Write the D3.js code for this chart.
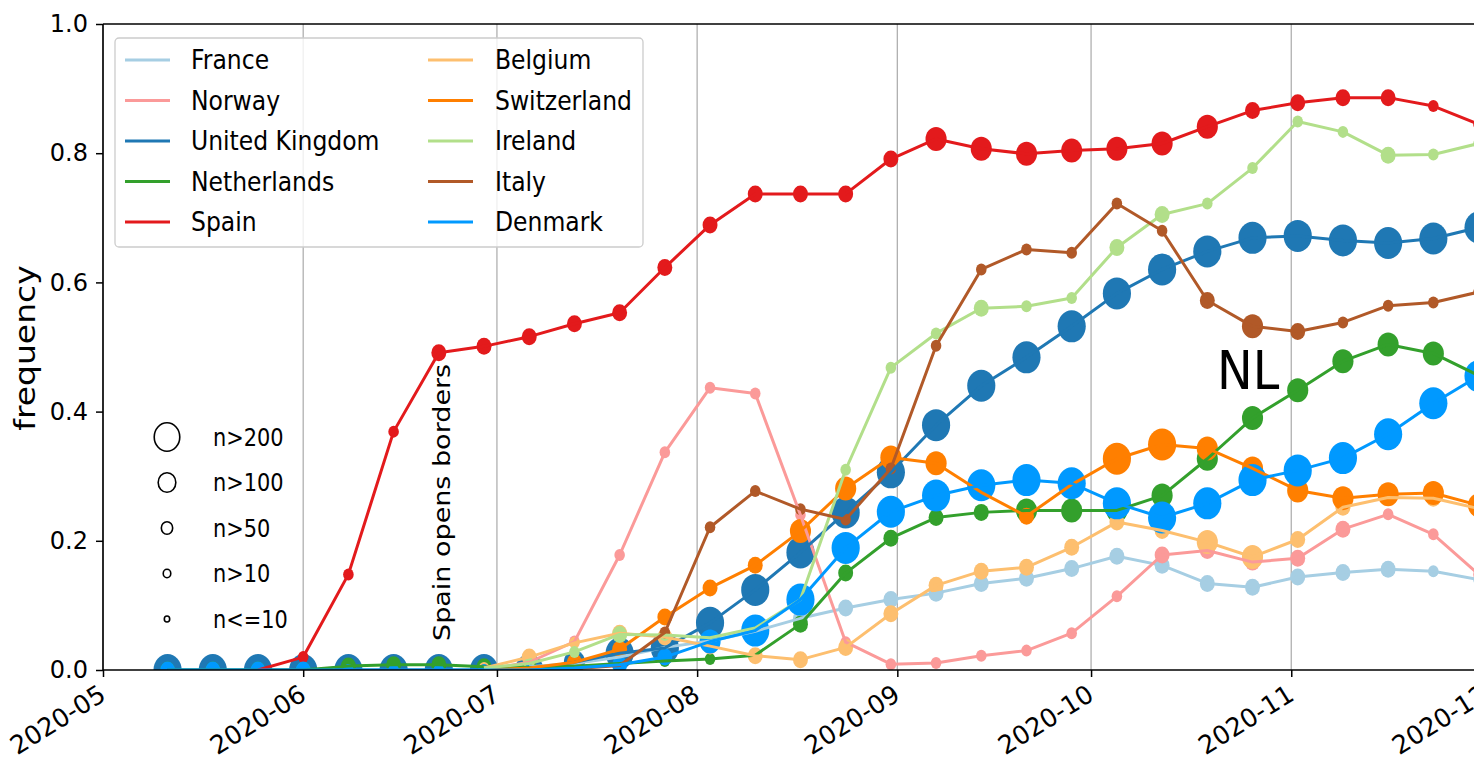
<!DOCTYPE html>
<html><head><meta charset="utf-8">
<script src="https://cdn.jsdelivr.net/npm/d3@7"></script>
<style>
html,body{margin:0;padding:0;background:#fff;}
svg{display:block;font-family:"DejaVu Sans",sans-serif;}
</style></head>
<body>
<svg id="chart" width="1474" height="762"></svg>
<script>
// ---------------- DATA ----------------
const dates = ["2020-05-11","2020-05-18","2020-05-25","2020-06-01","2020-06-08","2020-06-15","2020-06-22","2020-06-29",
  "2020-07-06","2020-07-13","2020-07-20","2020-07-27","2020-08-03","2020-08-10","2020-08-17","2020-08-24","2020-08-31",
  "2020-09-07","2020-09-14","2020-09-21","2020-09-28","2020-10-05","2020-10-12","2020-10-19","2020-10-26",
  "2020-11-02","2020-11-09","2020-11-16","2020-11-23","2020-11-30"];
const countries = ["France","Norway","United Kingdom","Netherlands","Spain","Belgium","Switzerland","Ireland","Italy","Denmark"];
const colors = ["#a6cee3","#fb9a99","#1f78b4","#33a02c","#e31a1c","#fdbf6f","#ff7f00","#b2df8a","#b15928","#0099ff"];
const _ = null;
const franceVals = [_,_,_,_,_,_,_,_,0.005,0.01,0.02,0.035,0.045,0.06,0.08,0.096,0.109,0.119,0.134,0.142,0.157,0.176,0.162,0.134,0.128,0.144,0.151,0.156,0.153,0.14];
const norwayVals = [_,_,_,_,_,_,_,0,0.012,0.044,0.178,0.337,0.437,0.428,0.24,0.043,0.009,0.011,0.022,0.03,0.057,0.114,0.178,0.185,0.167,0.173,0.218,0.241,0.21,0.148];
const ukVals = [0,0,0,0,0,0,0,0,0,0.012,0.026,0.034,0.073,0.124,0.182,0.244,0.306,0.379,0.44,0.484,0.532,0.583,0.62,0.648,0.669,0.672,0.665,0.661,0.668,0.685];
const nlVals = [0,0,0,0,0.006,0.008,0.008,0.005,0.004,0.006,0.01,0.014,0.017,0.023,0.071,0.15,0.204,0.236,0.244,0.247,0.247,0.247,0.27,0.327,0.39,0.433,0.478,0.504,0.49,0.456];
const spainVals = [_,_,0,0.02,0.148,0.369,0.491,0.501,0.516,0.536,0.553,0.623,0.689,0.737,0.737,0.737,0.791,0.822,0.807,0.799,0.804,0.807,0.815,0.841,0.866,0.878,0.886,0.886,0.873,0.845];
const belgiumVals = [_,_,_,_,_,_,_,0.003,0.02,0.042,0.057,0.051,0.037,0.022,0.016,0.035,0.087,0.131,0.153,0.159,0.19,0.229,0.216,0.198,0.175,0.202,0.252,0.267,0.266,0.25];
const switzerlandVals = [_,_,_,_,_,_,_,0,0.003,0.012,0.032,0.082,0.127,0.162,0.215,0.281,0.329,0.32,0.275,0.238,0.287,0.327,0.349,0.343,0.312,0.278,0.266,0.272,0.274,0.255];
const irelandVals = [_,_,_,_,_,_,_,0.003,0.01,0.028,0.055,0.054,0.05,0.065,0.109,0.31,0.468,0.521,0.56,0.563,0.576,0.654,0.705,0.722,0.777,0.849,0.833,0.797,0.798,0.815];
const italyVals = [_,_,_,_,_,_,_,_,0,0.002,0.007,0.058,0.221,0.277,0.249,0.233,0.312,0.502,0.62,0.651,0.646,0.722,0.68,0.572,0.532,0.524,0.538,0.564,0.569,0.585];
const denmarkVals = [0,0,0,0,0,0,0,0,0,0.003,0.008,0.02,0.044,0.061,0.109,0.189,0.245,0.27,0.286,0.294,0.289,0.258,0.236,0.258,0.294,0.309,0.328,0.365,0.413,0.455];
// sample-size bin per point: 1 n<=10, 2 n>10, 3 n>50, 4 n>100, 5 n>200
const franceN = [_,_,_,_,_,_,_,_,2,2,2,2,3,3,3,3,3,3,3,3,3,3,3,3,3,3,3,3,2,2];
const norwayN = [_,_,_,_,_,_,_,1,2,2,2,2,2,2,2,2,2,2,2,2,2,2,3,3,3,3,3,2,2,2];
const ukN = [5,5,5,5,5,5,5,5,5,4,5,5,5,5,5,5,5,5,5,5,5,5,5,5,5,5,5,5,5,5];
const nlN = [3,3,3,3,3,3,3,3,3,2,2,2,2,2,3,3,3,3,3,4,4,4,4,4,4,4,4,4,4,4];
const spainN = [_,_,1,2,2,2,3,3,3,3,3,3,3,3,3,3,3,4,4,4,4,4,4,4,3,3,3,3,2,2];
const belgiumN = [_,_,_,_,_,_,_,2,3,2,3,3,3,3,3,3,3,3,3,3,3,3,3,4,4,3,3,3,3,3];
const switzerlandN = [_,_,_,_,_,_,_,2,2,3,3,3,3,3,4,4,4,4,3,3,3,5,5,4,4,4,4,4,4,4];
const irelandN = [_,_,_,_,_,_,_,1,2,2,3,2,2,2,2,2,2,2,3,2,2,3,3,2,2,2,2,3,2,2];
const italyN = [_,_,_,_,_,_,_,_,1,2,2,2,2,2,2,2,2,2,2,2,2,2,2,3,4,3,2,2,2,2];
const denmarkN = [3,3,3,3,2,2,2,2,2,2,3,3,4,5,5,5,5,5,5,5,5,5,5,5,5,5,5,5,5,5];
const sizeLabels = ["n>200","n>100","n>50","n>10","n<=10"];
const yTicks = [0,0.2,0.4,0.6,0.8,1.0];

const valueSeries = [franceVals,norwayVals,ukVals,nlVals,spainVals,belgiumVals,switzerlandVals,irelandVals,italyVals,denmarkVals];
const sizeSeries = [franceN,norwayN,ukN,nlN,spainN,belgiumN,switzerlandN,irelandN,italyN,denmarkN];

// ---------------- LAYOUT ----------------
const parse = d3.utcParse("%Y-%m-%d");
const L = 103, R = 1485, T = 24, B = 670;
const SX = 0.87; // horizontal squish of the original figure
const x = d3.scaleUtc().domain([Date.UTC(2020,4,1), Date.UTC(2020,11,1)]).range([L, R]);
const y = d3.scaleLinear().domain([0,1]).range([B, T]);
const ry = d3.scaleOrdinal().domain([1,2,3,4,5]).range([3.6,6,8.5,12,16]);

const svg = d3.select("#chart");
svg.append("defs").append("clipPath").attr("id","clip")
  .append("rect").attr("x",L).attr("y",T).attr("width",R-L).attr("height",B-T);

// grid
const months = x.ticks(d3.utcMonth.every(1));
svg.append("g").selectAll("line").data(months).join("line")
  .attr("x1",d=>x(d)).attr("x2",d=>x(d)).attr("y1",T).attr("y2",B)
  .attr("stroke","#b0b0b0").attr("stroke-width",1.3);

const series = countries.map((c,i)=>({
  name:c, color:colors[i],
  pts: dates.map((d,j)=>({date:parse(d), v:valueSeries[i][j], n:sizeSeries[i][j]})).filter(p=>p.v!==null)
}));

const plot = svg.append("g").attr("clip-path","url(#clip)");
// markers (scatter, drawn below lines)
series.forEach(s=>{
  plot.append("g").selectAll("ellipse").data(s.pts.filter(p=>p.n)).join("ellipse")
    .attr("cx",p=>x(p.date)).attr("cy",p=>y(p.v))
    .attr("rx",p=>ry(p.n)*0.88).attr("ry",p=>ry(p.n))
    .attr("fill",s.color);
});
// lines
const line = d3.line().x(p=>x(p.date)).y(p=>y(p.v));
series.forEach(s=>{
  plot.append("path").datum(s.pts).attr("d",line)
    .attr("fill","none").attr("stroke",s.color).attr("stroke-width",3).attr("stroke-linejoin","round");
});

// axes
const yAxis = svg.append("g").attr("transform",`translate(${L},0)`)
  .call(d3.axisLeft(y).tickValues(yTicks).tickFormat(d3.format(".1f")).tickSize(7).tickPadding(8));
yAxis.select(".domain").remove();
yAxis.selectAll("line").attr("stroke","#000").attr("stroke-width",1.5);
yAxis.selectAll("text").attr("font-size",24).attr("font-family","DejaVu Sans").attr("fill","#000");

const xAxis = svg.append("g").attr("transform",`translate(0,${B})`)
  .call(d3.axisBottom(x).ticks(d3.utcMonth.every(1)).tickFormat(d3.utcFormat("%Y-%m")).tickSize(7));
xAxis.select(".domain").remove();
xAxis.selectAll("line").attr("stroke","#000").attr("stroke-width",1.5);
xAxis.selectAll("text").attr("font-size",25.5).attr("font-family","DejaVu Sans").attr("fill","#000")
  .attr("text-anchor","end").attr("dy",null).attr("y",0)
  .attr("transform","translate(4,29) rotate(-32)");

// spines
svg.append("line").attr("x1",L).attr("x2",L).attr("y1",T).attr("y2",B).attr("stroke","#000").attr("stroke-width",1.6);
svg.append("line").attr("x1",L).attr("x2",R).attr("y1",B).attr("y2",B).attr("stroke","#000").attr("stroke-width",1.6);
svg.append("line").attr("x1",L).attr("x2",R).attr("y1",T).attr("y2",T).attr("stroke","#000").attr("stroke-width",1.6);

// y label
svg.append("text").attr("transform",`translate(35,348) scale(${SX},1) rotate(-90)`)
  .attr("text-anchor","middle").attr("font-size",33).text("frequency");

// annotations
svg.append("text").attr("transform",`translate(450,641) scale(${SX},1) rotate(-90)`)
  .attr("font-size",27).text("Spain opens borders");
svg.append("text").attr("transform",`translate(1217,389) scale(0.9,1)`)
  .attr("font-size",53).text("NL");

// legend
const lg = svg.append("g");
lg.append("rect").attr("x",115).attr("y",38).attr("width",528).attr("height",209).attr("rx",4)
  .attr("fill","#fff").attr("fill-opacity",0.8).attr("stroke","#cccccc").attr("stroke-width",1.3);
series.forEach((s,i)=>{
  const col = Math.floor(i/5), row = i%5;
  const lx = col===0?125:428, tx = col===0?191:495, ly = 60+row*40.5;
  lg.append("line").attr("x1",lx).attr("x2",lx+45).attr("y1",ly).attr("y2",ly)
    .attr("stroke",s.color).attr("stroke-width",3);
  lg.append("text").attr("transform",`translate(${tx},${ly}) scale(${SX},1)`)
    .attr("dominant-baseline","central").attr("font-size",27).text(s.name);
});

// size legend
const sl = svg.append("g");
sizeLabels.forEach((t,i)=>{
  const cy = 437 + i*45.5;
  const r = [14.2,9.8,6.3,4.2,3.0][i];
  sl.append("ellipse").attr("cx",167).attr("cy",cy).attr("rx",r*0.9).attr("ry",r)
    .attr("fill","none").attr("stroke","#000").attr("stroke-width",1.6);
  sl.append("text").attr("transform",`translate(213,${cy}) scale(${SX},1)`)
    .attr("dominant-baseline","central").attr("font-size",24).text(t);
});
</script>
</body></html>
